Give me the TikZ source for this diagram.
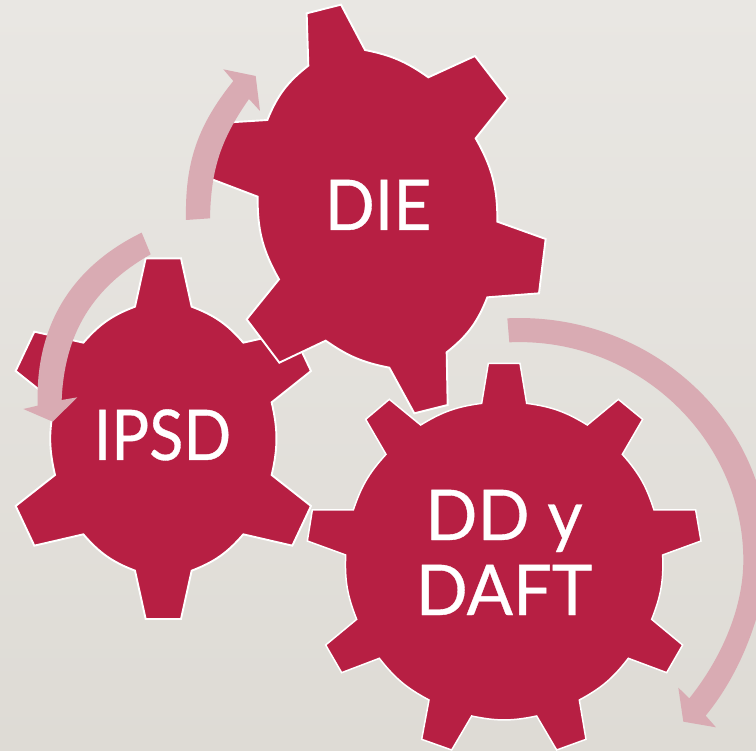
\documentclass[tikz,border=0pt]{standalone}
\usepackage{fontspec}
\setmainfont{Lato}
\newfontfamily\labelfont[FakeBold=0.5]{Lato}
\definecolor{gearred}{HTML}{B71F43}
\definecolor{arrowpink}{HTML}{D9ABB3}
\definecolor{bgtop}{HTML}{E9E7E3}
\definecolor{bgbot}{HTML}{DEDBD5}
\tikzset{
  gearshape/.style={fill=gearred,draw=white,line width=1.9pt,line join=miter},
  arrowshape/.style={fill=arrowpink,draw=none},
  zoomed/.style={x=0.33333pt,y=-0.33333pt},
  gearlabel/.style={text=white,font=\labelfont\fontsize{70}{75}\selectfont,anchor=base,inner sep=0pt}
}
\begin{document}
\begin{tikzpicture}[x=1pt,y=-1pt]
\useasboundingbox (0,0) rectangle (756,751);
\clip (0,0) rectangle (756,751);
\shade[top color=bgtop,bottom color=bgbot] (0,0) rectangle (756,751);
% DD y DAFT gear
\begin{scope}[shift={(300pt,-310pt)},zoomed]
\draw[gearshape,line width=1.5pt] (565,160) -- (660,160) -- (680,280) to[bend left=12] (862,345) -- (955,268) -- (1028,328) -- (967,433) to[bend left=12] (1062,600) -- (1187,600) -- (1203,693) -- (1088,735) to[bend left=12] (1055,928) -- (1148,1005) -- (1100,1088) -- (985,1045) to[bend left=12] (838,1170) -- (858,1288) -- (770,1320) -- (710,1218) to[bend left=12] (515,1218) -- (455,1320) -- (365,1288) -- (387,1170) to[bend left=12] (238,1045) -- (125,1088) -- (77,1005) -- (170,928) to[bend left=12] (137,735) -- (22,693) -- (37,600) -- (160,600) to[bend left=12] (258,433) -- (197,328) -- (268,268) -- (362,345) to[bend left=12] (545,280) -- cycle;
\end{scope}
% IPSD gear
\begin{scope}[shift={(0pt,-220pt)},zoomed]
\draw[gearshape] (437,115) -- (543,115) -- (575,260) to[bend left=14] (730,368) -- (877,335) -- (933,453) -- (815,547) to[bend left=13] (815,765) -- (933,858) -- (877,977) -- (730,943) to[bend left=14] (575,1052) -- (543,1197) -- (437,1197) -- (405,1052) to[bend left=14] (250,943) -- (103,977) -- (47,858) -- (165,765) to[bend left=13] (165,547) -- (47,453) -- (103,335) -- (250,368) to[bend left=14] (405,260) -- cycle;
\end{scope}
% DIE gear
\begin{scope}[shift={(180pt,0pt)},zoomed]
\draw[gearshape] (380,40) -- (483,14) -- (555,150) to[bend left=12] (745,232) -- (885,168) -- (983,295) -- (887,415) to[bend left=15] (952,665) -- (1097,717) -- (1077,880) -- (922,892) to[bend left=15] (800,1057) -- (803,1215) -- (703,1240) -- (628,1103) to[bend left=12] (437,1022) -- (298,1088) -- (200,958) -- (297,838) to[bend left=15] (233,590) -- (83,533) -- (103,370) -- (262,360) to[bend left=15] (385,197) -- cycle;
\end{scope}
% circular arrows
\begin{scope}[shift={(180pt,0pt)},zoomed]
\fill[arrowshape] (18,660) to[bend left=20] (160,243) -- (130,208) -- (227,228) -- (240,333) -- (207,297) to[bend right=17] (90,655) -- cycle;
\end{scope}
\begin{scope}[shift={(0pt,-220pt)},zoomed]
\fill[arrowshape] (425,38) to[bend right=33] (113,557) -- (70,567) -- (158,605) -- (232,532) -- (185,540) to[bend left=29] (452,103) -- cycle;
\end{scope}
\begin{scope}[shift={(300pt,-310pt)},zoomed]
\fill[arrowshape] (622,25) .. controls (1051,5) and (1402,335) .. (1402,715) .. controls (1402,880) and (1330,1080) .. (1217,1217) -- (1248,1252) -- (1150,1235) -- (1135,1133) -- (1168,1165) .. controls (1260,1050) and (1330,900) .. (1330,750) .. controls (1330,390) and (1015,80) .. (628,97) -- cycle;
\end{scope}
% labels
\node[gearlabel,xscale=0.94] (die) at (378,230) {DIE};
\node[gearlabel,xscale=0.90] (ipsd) at (162.5,460) {IPSD};
\node[gearlabel,xscale=0.98] (ddy) at (504,540) {DD y};
\node[gearlabel,xscale=0.98] (daft) at (504,615) {DAFT};
\end{tikzpicture}
\end{document}
